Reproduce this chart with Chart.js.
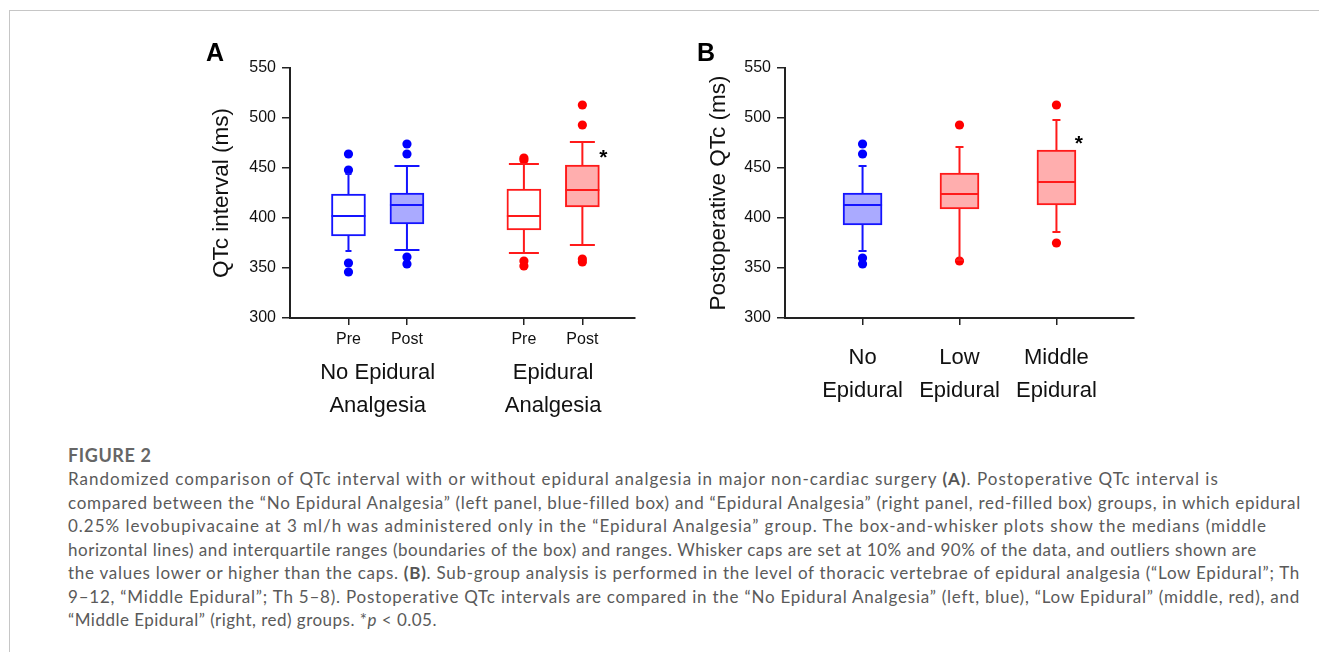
<!DOCTYPE html>
<html><head><meta charset="utf-8">
<script src="https://cdn.jsdelivr.net/npm/chart.js@4.4.1/dist/chart.umd.min.js"></script>
<style>
html,body{margin:0;padding:0;background:#fff;}
body{width:1319px;height:652px;position:relative;overflow:hidden;}
#frame{position:absolute;left:9px;top:10px;width:1310px;height:642px;border-left:1px solid #c6c6c6;border-top:1px solid #c6c6c6;box-sizing:border-box}
canvas{position:absolute;display:block}
#ca{left:190px;top:30px}
#cb{left:680px;top:30px}
.plab{position:absolute;font:bold 25px 'Liberation Sans',Arial,sans-serif;color:#000;line-height:25px}
#fig{position:absolute;left:68px;top:443px;height:24px;line-height:24px;font-family:Lato,'Open Sans',sans-serif;font-size:18px;font-weight:bold;color:#666;letter-spacing:0.6px}
#cap{position:absolute;left:68px;top:467px;font-family:Lato,'Open Sans',sans-serif;color:#5a5a5a;font-size:17px}
#cap .ln{height:23.5px;line-height:23.5px;white-space:nowrap}
#cap b{color:#555}
</style></head><body>
<div id="frame"></div>
<canvas id="ca" width="460" height="400"></canvas>
<canvas id="cb" width="470" height="400"></canvas>
<div class="plab" style="left:206px;top:40px">A</div>
<div class="plab" style="left:697px;top:40px">B</div>
<div id="fig">FIGURE 2</div>
<div id="cap">
<div class="ln" data-w="1151">Randomized comparison of QTc interval with or without epidural analgesia in major non-cardiac surgery <b>(A)</b>. Postoperative QTc interval is</div>
<div class="ln" data-w="1232">compared between the “No Epidural Analgesia” (left panel, blue-filled box) and “Epidural Analgesia” (right panel, red-filled box) groups, in which epidural</div>
<div class="ln" data-w="1199">0.25% levobupivacaine at 3 ml/h was administered only in the “Epidural Analgesia” group. The box-and-whisker plots show the medians (middle</div>
<div class="ln" data-w="1189">horizontal lines) and interquartile ranges (boundaries of the box) and ranges. Whisker caps are set at 10% and 90% of the data, and outliers shown are</div>
<div class="ln" data-w="1232">the values lower or higher than the caps. <b>(B)</b>. Sub-group analysis is performed in the level of thoracic vertebrae of epidural analgesia (“Low Epidural”; Th</div>
<div class="ln" data-w="1232">9–12, “Middle Epidural”; Th 5–8). Postoperative QTc intervals are compared in the “No Epidural Analgesia” (left, blue), “Low Epidural” (middle, red), and</div>
<div class="ln" data-w="369">“Middle Epidural” (right, red) groups. *<i>p</i> &lt; 0.05.</div>
</div>
<script>
// ---------- Panel A data ----------
const catA = ['Pre', 'Post', 'Pre', 'Post'];
const slotA = [1, 2, 4, 5];
const groupA = [['No Epidural', 'Analgesia'], ['Epidural', 'Analgesia']];
const groupSlotA = [1.5, 4.5];
const q1A = [382, 394, 388, 411];
const medA = [402, 413, 402, 428];
const q3A = [424, 425, 429, 453];
const loA = [367, 368, 365, 373];
const hiA = [444, 452, 454, 476];
const outA = [[464, 448, 355, 346], [474, 464, 361, 354], [460, 458, 357, 352], [513, 493, 359, 356]];
const sigA = [5.36, 466];

// ---------- Panel B data ----------
const catB = [['No', 'Epidural'], ['Low', 'Epidural'], ['Middle', 'Epidural']];
const slotB = [1, 2, 3];
const q1B = [393, 409, 413];
const medB = [413, 424, 436];
const q3B = [425, 445, 468];
const loB = [367, 358, 386];
const hiB = [452, 471, 498];
const outB = [[474, 464, 360, 354], [493, 357], [513, 375]];
const sigB = [3.23, 480];

const yTicks = [300, 350, 400, 450, 500, 550];

// ---------- styles ----------
const BLUE = '#1414ff', RED = '#ff1a1a';
const BLUE_DOT = '#0000ff', RED_DOT = '#ff0000';
const BLUE_FILL = '#aaaaff', RED_FILL = '#ffaeae';
const FONT = "'Liberation Sans', Arial, sans-serif";
const AXC = '#222';

const boxLines = {
  id: 'boxLines',
  afterDatasetsDraw(chart, args, o) {
    const {ctx, scales: {x, y}} = chart;
    ctx.save();
    ctx.lineWidth = 2;
    o.pos.forEach((p, i) => {
      const px = x.getPixelForValue(p);
      const half = o.boxW / 2, ch = o.capW[i] / 2;
      ctx.strokeStyle = o.col[i];
      ctx.beginPath();
      ctx.moveTo(px - half, y.getPixelForValue(o.med[i]));
      ctx.lineTo(px + half, y.getPixelForValue(o.med[i]));
      ctx.moveTo(px, y.getPixelForValue(o.q3[i]));
      ctx.lineTo(px, y.getPixelForValue(o.hi[i]));
      ctx.moveTo(px, y.getPixelForValue(o.q1[i]));
      ctx.lineTo(px, y.getPixelForValue(o.lo[i]));
      ctx.moveTo(px - ch, y.getPixelForValue(o.hi[i]));
      ctx.lineTo(px + ch, y.getPixelForValue(o.hi[i]));
      ctx.moveTo(px - ch, y.getPixelForValue(o.lo[i]));
      ctx.lineTo(px + ch, y.getPixelForValue(o.lo[i]));
      ctx.stroke();
    });
    ctx.fillStyle = '#000';
    ctx.font = 'bold 21px ' + FONT;
    ctx.textAlign = 'center';
    ctx.textBaseline = 'alphabetic';
    ctx.fillText('*', x.getPixelForValue(o.sig[0]), y.getPixelForValue(o.sig[1]) + 12);
    ctx.restore();
  }
};

function outlierData(slots, outs) {
  const pts = [];
  outs.forEach((arr, i) => arr.forEach(v => pts.push({x: slots[i], y: v})));
  return pts;
}
function outlierColors(outs, cols) {
  const c = [];
  outs.forEach((arr, i) => arr.forEach(() => c.push(cols[i])));
  return c;
}

function yScale(title, titlePad, width) {
  return {
    type: 'linear', min: 300, max: 550,
    afterBuildTicks: s => { s.ticks = yTicks.map(v => ({value: v})); },
    ticks: {font: {family: FONT, size: 16}, color: '#111', padding: 6},
    grid: {drawOnChartArea: false, drawTicks: true, tickLength: 8, color: AXC, lineWidth: 1.5},
    border: {color: AXC, width: 2},
    title: {display: true, text: title, font: {family: FONT, size: 22.5}, color: '#111', padding: {top: titlePad, bottom: 0}},
    afterFit: s => { s.width = width; }
  };
}

// ---------- Panel A ----------
const colA = [BLUE, BLUE, RED, RED];
const dotColA = [BLUE_DOT, BLUE_DOT, RED_DOT, RED_DOT];
new Chart(document.getElementById('ca'), {
  type: 'bar',
  data: {
    datasets: [
      {
        type: 'bar', xAxisID: 'x', yAxisID: 'y',
        data: slotA.map((s, i) => ({x: s, y: [q1A[i], q3A[i]]})),
        backgroundColor: ['#ffffff', BLUE_FILL, '#ffffff', RED_FILL],
        borderColor: colA, borderWidth: 2, borderSkipped: false, barThickness: 34
      },
      {
        type: 'scatter', xAxisID: 'x', yAxisID: 'y',
        data: outlierData(slotA, outA),
        pointBackgroundColor: outlierColors(outA, dotColA),
        pointBorderWidth: 0, pointRadius: 4.6, showLine: false
      }
    ]
  },
  options: {
    responsive: false, animation: false, events: [],
    layout: {padding: {left: 0, right: 15, top: 38, bottom: 0}},
    plugins: {
      legend: {display: false}, tooltip: {enabled: false},
      boxLines: {pos: slotA, med: medA, q1: q1A, q3: q3A, lo: loA, hi: hiA, col: colA, boxW: 34, capW: [6, 25, 30, 25], sig: sigA}
    },
    scales: {
      x: {
        type: 'linear', min: 0, max: 5.9, offset: false, weight: 0,
        afterBuildTicks: s => { s.ticks = slotA.map(v => ({value: v})); },
        ticks: {callback: (v, i) => catA[i], font: {family: FONT, size: 16}, color: '#111', padding: 5, maxRotation: 0, autoSkip: false},
        grid: {offset: false, drawOnChartArea: false, drawTicks: true, tickLength: 7, color: AXC, lineWidth: 1.5},
        border: {color: AXC, width: 2},
        afterFit: s => { s.height = 30; }
      },
      x2: {
        type: 'linear', axis: 'x', position: 'bottom', min: 0, max: 5.9, offset: false, weight: 1,
        afterBuildTicks: s => { s.ticks = groupSlotA.map(v => ({value: v})); },
        ticks: {callback: (v, i) => groupA[i], font: {family: FONT, size: 22, lineHeight: 1.5}, color: '#111', padding: 8, maxRotation: 0, autoSkip: false},
        grid: {display: false, drawTicks: false, offset: false},
        border: {display: false},
        afterFit: s => { s.height = 82; }
      },
      y: yScale('QTc interval (ms)', 18.5, 100)
    }
  },
  plugins: [boxLines]
});

// ---------- Panel B ----------
const colB = [BLUE, RED, RED];
const dotColB = [BLUE_DOT, RED_DOT, RED_DOT];
new Chart(document.getElementById('cb'), {
  type: 'bar',
  data: {
    datasets: [
      {
        type: 'bar', xAxisID: 'x', yAxisID: 'y',
        data: slotB.map((s, i) => ({x: s, y: [q1B[i], q3B[i]]})),
        backgroundColor: [BLUE_FILL, RED_FILL, RED_FILL],
        borderColor: colB, borderWidth: 2, borderSkipped: false, barThickness: 39
      },
      {
        type: 'scatter', xAxisID: 'x', yAxisID: 'y',
        data: outlierData(slotB, outB),
        pointBackgroundColor: outlierColors(outB, dotColB),
        pointBorderWidth: 0, pointRadius: 4.6, showLine: false
      }
    ]
  },
  options: {
    responsive: false, animation: false, events: [],
    layout: {padding: {left: 0, right: 16, top: 38, bottom: 0}},
    plugins: {
      legend: {display: false}, tooltip: {enabled: false},
      boxLines: {pos: slotB, med: medB, q1: q1B, q3: q3B, lo: loB, hi: hiB, col: colB, boxW: 39, capW: [8, 8, 8], sig: sigB}
    },
    scales: {
      x: {
        type: 'linear', min: 0.2, max: 3.8, offset: false,
        afterBuildTicks: s => { s.ticks = slotB.map(v => ({value: v})); },
        ticks: {callback: (v, i) => catB[i], font: {family: FONT, size: 22, lineHeight: 1.5}, color: '#111', padding: 16, maxRotation: 0, autoSkip: false},
        grid: {offset: false, drawOnChartArea: false, drawTicks: true, tickLength: 7, color: AXC, lineWidth: 1.5},
        border: {color: AXC, width: 2},
        afterFit: s => { s.height = 112; }
      },
      y: yScale('Postoperative QTc (ms)', 25.5, 105)
    }
  },
  plugins: [boxLines]
});

// ---------- caption line fitting ----------
function fitCaption() {
  document.querySelectorAll('#cap .ln').forEach(el => {
    el.style.letterSpacing = '0px';
    const r = document.createRange();
    r.selectNodeContents(el);
    const w = r.getBoundingClientRect().width;
    const n = el.textContent.length;
    const target = +el.dataset.w;
    el.style.letterSpacing = ((target - w) / n).toFixed(3) + 'px';
  });
}
fitCaption();
if (document.fonts && document.fonts.ready) document.fonts.ready.then(fitCaption);
</script>
</body></html>
